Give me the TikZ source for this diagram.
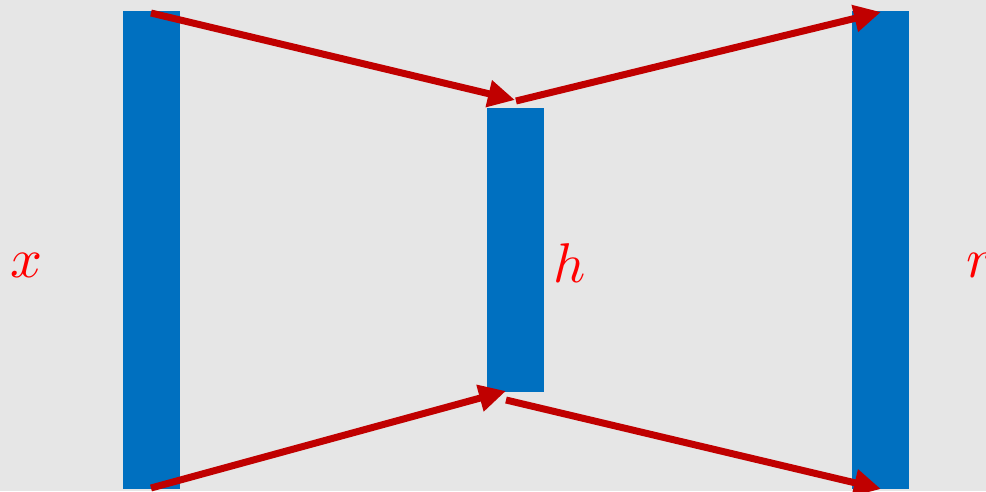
\documentclass[tikz,border=0pt]{standalone}
\usepackage{graphicx}
\usetikzlibrary{arrows.meta}
\definecolor{bg}{HTML}{E6E6E6}
\definecolor{barblue}{HTML}{0070C0}
\definecolor{arrred}{HTML}{C00000}
\newcommand{\biglab}[1]{\scalebox{5.6}{$#1$}}
\begin{document}
\begin{tikzpicture}[x=1pt,y=-1pt,
  bar/.style={fill=barblue,draw=none,inner sep=0pt,minimum width=57pt},
  arr/.style={draw=arrred,line width=7pt,-{Triangle[length=27pt,width=26pt]}},
  lab/.style={text=red,inner sep=0pt}]
\fill[bg] (0,0) rectangle (986,491);
\useasboundingbox (0,0) rectangle (986,491);
\clip (0,0) rectangle (986,491);
\node[bar,minimum height=478pt] (L) at (151.5,250) {};
\node[bar,minimum height=284pt] (M) at (515.5,250) {};
\node[bar,minimum height=478pt] (R) at (880.5,250) {};
\node[lab] (lx) at (27,265) {\biglab{x}};
\node[lab] (lh) at (570,263) {\biglab{h}};
\node[lab] (lr) at (980,265) {\biglab{r}};
\coordinate (a1s) at (151,13);
\coordinate (a1e) at (515,100);
\coordinate (a2s) at (516,101);
\coordinate (a2e) at (881,12);
\coordinate (a3s) at (151,488);
\coordinate (a3e) at (506,391);
\coordinate (a4s) at (506,400);
\coordinate (a4e) at (881,489);
\draw[arr] (a1s) -- (a1e);
\draw[arr] (a2s) -- (a2e);
\draw[arr] (a3s) -- (a3e);
\draw[arr] (a4s) -- (a4e);
\end{tikzpicture}
\end{document}
